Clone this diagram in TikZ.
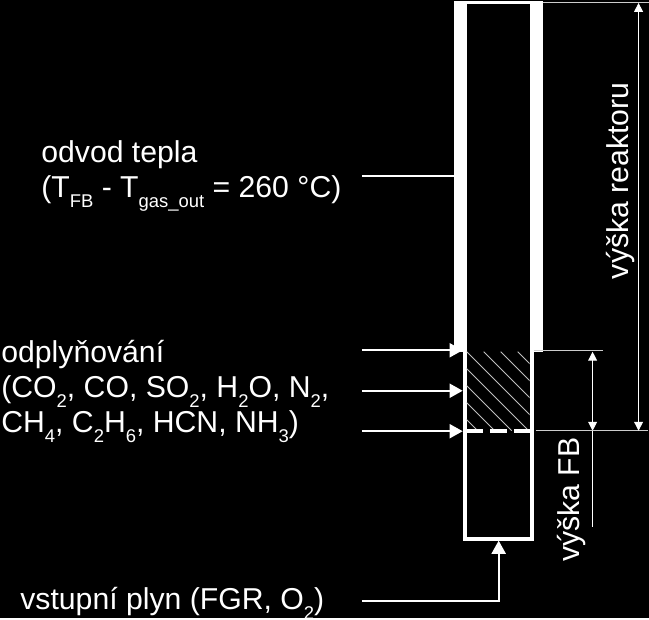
\documentclass[tikz,border=0pt]{standalone}
\usepackage{fontspec}
\setmainfont{Liberation Sans}
\usetikzlibrary{arrows.meta}
\newcommand{\dolni}[1]{\raisebox{-0.32em}{\fontsize{10.5}{12}\selectfont #1}}
\tikzset{
  popis/.style={text=white,inner sep=0pt,align=left,font=\fontsize{17.2}{19.9}\selectfont},
  svislypopis/.style={popis,rotate=90,anchor=center},
  vstup/.style={draw=white,line width=1.2pt,-{Triangle[length=7.5pt,width=8pt]}},
  kota/.style={draw=white,line width=0.55pt,{Triangle[length=5pt,width=5pt]}-{Triangle[length=5pt,width=5pt]}},
  vynaska/.style={draw=white!80!black,line width=0.5pt},
}
\begin{document}
\begin{tikzpicture}[x=0.02cm,y=-0.02cm]

\fill[black] (0,0) rectangle (649,618);

% steny reaktoru
\fill[white] (454,1) rectangle (467,352);
\fill[white] (530,1) rectangle (543,352);
\fill[white] (454,1) rectangle (543,4);

% sloupec
\fill[white] (463,352) rectangle (467,541);
\fill[white] (530,352) rectangle (534,541);
\fill[white] (463,537) rectangle (534,541);

% srafovani
\begin{scope}
\clip (467,352) rectangle (530,431);
\foreach \posun in {47,64,81,98,115,132,149,166}
  \draw[white!75!black,line width=0.5pt] (\posun+352,352) -- (\posun+431,431);
\end{scope}
\draw[white,line width=2.3pt,dash pattern=on 9.5pt off 4pt] (467,431.5) -- (530,431.5);

% body
\coordinate (teploA) at (362,176);
\coordinate (teploB) at (454,176);
\coordinate (plynA) at (362,350.5);
\coordinate (plynB) at (463,350.5);
\coordinate (plynC) at (362,391);
\coordinate (plynD) at (463,391);
\coordinate (plynE) at (362,431.5);
\coordinate (plynF) at (463,431.5);
\coordinate (vstupA) at (362,601.5);
\coordinate (vstupB) at (499,601.5);
\coordinate (vstupC) at (499,541);
\coordinate (vrsekA) at (543,2.5);
\coordinate (vrsekB) at (649,2.5);
\coordinate (hladinaA) at (534,351);
\coordinate (hladinaB) at (603,351);
\coordinate (roštA) at (536,431);
\coordinate (roštB) at (648,431);
\coordinate (reaktorA) at (639,3);
\coordinate (reaktorB) at (639,431);
\coordinate (fbA) at (593,352);
\coordinate (fbB) at (593,431);
\coordinate (fbC) at (593,527);

% sipky
\draw[white,line width=1.2pt] (teploA) -- (teploB);
\draw[vstup] (plynA) -- (plynB);
\draw[vstup] (plynC) -- (plynD);
\draw[vstup] (plynE) -- (plynF);
\draw[vstup] (vstupA) -- (vstupB) -- (vstupC);

% koty
\draw[vynaska] (vrsekA) -- (vrsekB);
\draw[vynaska] (hladinaA) -- (hladinaB);
\draw[vynaska] (roštA) -- (roštB);
\draw[kota] (reaktorA) -- (reaktorB);
\draw[kota] (fbA) -- (fbB);
\draw[white,line width=0.55pt] (fbB) -- (fbC);

% popisy
\node[popis,anchor=west] (odvod) at (41,176) {odvod tepla\\(T\dolni{FB} - T\dolni{gas\_out} = 260 °C)};
\node[popis,anchor=west] (odplyn) at (1,392) {odplyňování\\(CO\dolni{2}, CO, SO\dolni{2}, H\dolni{2}O, N\dolni{2},\\CH\dolni{4}, C\dolni{2}H\dolni{6}, HCN, NH\dolni{3})};
\node[popis,anchor=base west] (vstupni) at (20,610) {vstupní plyn (FGR, O\dolni{2})};
\node[svislypopis] (vyskareaktor) at (621,181) {výška reaktoru};
\node[svislypopis] (vyskafb) at (572,500) {výška FB};

\end{tikzpicture}
\end{document}
